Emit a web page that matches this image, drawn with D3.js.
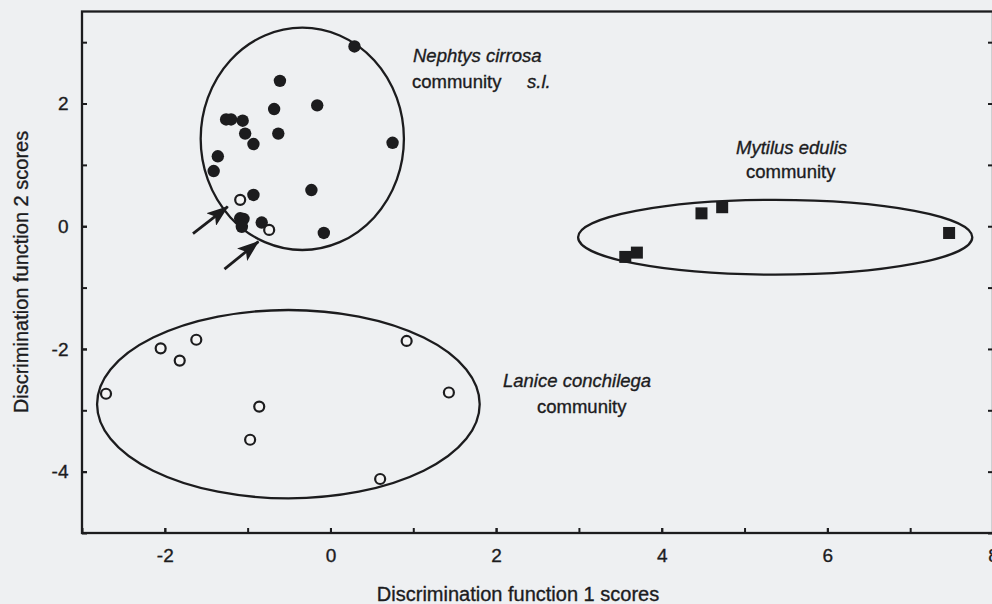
<!DOCTYPE html>
<html>
<head>
<meta charset="utf-8">
<script src="https://cdn.jsdelivr.net/npm/d3@7"></script>
<style>
	body { margin: 0; background: #eef0f2; }
	svg text { font-family: "Liberation Sans", Arial, sans-serif; fill: #1c1c1e; stroke: #1c1c1e; stroke-width: 0.35px; }
</style>
</head>
<body>
<svg class="svgDiscriminantGraph"></svg>
<script>
// Scores: [function 1, function 2]
var nephtysPoints = [
	[0.29, 2.93], [-0.61, 2.37], [-0.16, 1.97], [-0.68, 1.91], [-1.26, 1.74],
	[-1.20, 1.74], [-1.06, 1.72], [-1.03, 1.51], [-0.63, 1.51], [0.75, 1.36],
	[-0.93, 1.34], [-1.36, 1.14], [-1.41, 0.90], [-0.23, 0.59], [-0.93, 0.51],
	[-1.09, 0.13], [-1.05, 0.12], [-1.07, -0.01], [-0.83, 0.06], [-0.08, -0.11]
];
var arrowedPoints = [[-1.09, 0.43], [-0.74, -0.06]];
var lanicePoints = [
	[-2.71, -2.73], [-2.05, -1.99], [-1.82, -2.19], [-1.62, -1.85], [-0.86, -2.94],
	[-0.97, -3.48], [0.92, -1.87], [1.43, -2.71], [0.60, -4.12]
];
var mytilusPoints = [[3.56, -0.50], [3.70, -0.43], [4.48, 0.21], [4.73, 0.31], [7.47, -0.11]];

// Community envelopes: centre x, centre y, radius x, radius y (score units)
var communityNames = ["Nephtys cirrosa", "Mytilus edulis", "Lanice conchilega"];
var envelopes = [[-0.34, 1.425, 1.227, 1.812], [5.37, -0.18, 2.38, 0.61], [-0.508, -2.90, 2.31, 1.535]];

// Arrows pointing at the two open points: x1, y1, x2, y2
var arrows = [[-1.66, -0.12, -1.24, 0.32], [-1.28, -0.70, -0.87, -0.25]];

var xTicks = [-2, 0, 2, 4, 6, 8];
var yTicks = [-4, -2, 0, 2];
var xMinorTicks = d3.range(-3, 9, 1);
var yMinorTicks = d3.range(-5, 4, 1);

function startScript() {
	"use strict";
	var widthGraph = 992;
	var heightGraph = 604;
	var ink = "#1c1c1e";

	var svgGraph = d3.select(".svgDiscriminantGraph");
	svgGraph.attr("width", widthGraph);
	svgGraph.attr("height", heightGraph);

	// frame goes a bit past the right edge, like the scan
	var left = 82, right = 993, top = 11.5, bottom = 533;
	var x = d3.scaleLinear().domain([-3, 8]).range([left, right]);
	var y = d3.scaleLinear().domain([-5, 3.5]).range([bottom, top]);

	// ------- Axes (ticks pointing inside) ------- //
	var gx = svgGraph.append("g").attr("transform", "translate(0," + bottom + ")");
	gx.call(d3.axisBottom(x).tickValues(xMinorTicks).tickSize(-5).tickFormat(""));
	var gxLab = svgGraph.append("g").attr("transform", "translate(0," + bottom + ")");
	gxLab.call(d3.axisBottom(x).tickValues(xTicks).tickSize(-5).tickPadding(16).tickFormat(d3.format("d")));

	var gy = svgGraph.append("g").attr("transform", "translate(" + left + ",0)");
	gy.call(d3.axisLeft(y).tickValues(yMinorTicks).tickSize(-5).tickFormat(""));
	var gyLab = svgGraph.append("g").attr("transform", "translate(" + left + ",0)");
	gyLab.call(d3.axisLeft(y).tickValues(yTicks).tickSize(-5).tickPadding(13.5).tickFormat(d3.format("d")));

	var gr = svgGraph.append("g").attr("transform", "translate(" + right + ",0)");
	gr.call(d3.axisRight(y).tickValues(yMinorTicks).tickSize(-5).tickFormat(""));

	svgGraph.selectAll(".domain").remove();
	svgGraph.selectAll(".tick line").attr("stroke", ink).attr("stroke-width", 2);
	svgGraph.selectAll(".tick text")
		.attr("font-size", 19)
		.attr("font-family", "Liberation Sans, Arial, sans-serif")
		.attr("fill", ink);
	// d3 uses minus sign, the figure has a hyphen
	gxLab.selectAll(".tick text").text(function(d) { return String(d); });
	gyLab.selectAll(".tick text").text(function(d) { return String(d); });

	svgGraph.append("rect")
		.attr("x", left).attr("y", top)
		.attr("width", right - left).attr("height", bottom - top)
		.attr("fill", "none")
		.attr("stroke", ink)
		.attr("stroke-width", 2.3);

	// ------- Envelopes ------- //
	svgGraph.selectAll("ellipse.envelope")
		.data(envelopes)
		.enter().append("ellipse")
		.attr("class", "envelope")
		.attr("cx", function(d) { return x(d[0]); })
		.attr("cy", function(d) { return y(d[1]); })
		.attr("rx", function(d) { return x(d[0] + d[2]) - x(d[0]); })
		.attr("ry", function(d) { return y(d[1] - d[3]) - y(d[1]); })
		.attr("fill", "none")
		.attr("stroke", ink)
		.attr("stroke-width", 2.3);

	// ------- Points ------- //
	svgGraph.selectAll("circle.nephtys")
		.data(nephtysPoints)
		.enter().append("circle")
		.attr("class", "nephtys")
		.attr("cx", function(d) { return x(d[0]); })
		.attr("cy", function(d) { return y(d[1]); })
		.attr("r", 6.2)
		.attr("fill", ink);

	svgGraph.selectAll("circle.open")
		.data(arrowedPoints.concat(lanicePoints))
		.enter().append("circle")
		.attr("class", "open")
		.attr("cx", function(d) { return x(d[0]); })
		.attr("cy", function(d) { return y(d[1]); })
		.attr("r", 5)
		.attr("fill", "#f4f4f4")
		.attr("stroke", ink)
		.attr("stroke-width", 2.2);

	svgGraph.selectAll("rect.mytilus")
		.data(mytilusPoints)
		.enter().append("rect")
		.attr("class", "mytilus")
		.attr("x", function(d) { return x(d[0]) - 6; })
		.attr("y", function(d) { return y(d[1]) - 6; })
		.attr("width", 12)
		.attr("height", 12)
		.attr("fill", ink);

	// ------- Arrows ------- //
	svgGraph.append("defs").append("marker")
		.attr("id", "arrowHead")
		.attr("markerUnits", "userSpaceOnUse")
		.attr("markerWidth", 22).attr("markerHeight", 16)
		.attr("refX", 21).attr("refY", 8)
		.attr("orient", "auto")
		.append("path")
		.attr("d", "M0,0 L22,8 L0,16 L5,8 Z")
		.attr("fill", ink);

	svgGraph.selectAll("line.arrow")
		.data(arrows)
		.enter().append("line")
		.attr("class", "arrow")
		.attr("x1", function(d) { return x(d[0]); })
		.attr("y1", function(d) { return y(d[1]); })
		.attr("x2", function(d) { return x(d[2]); })
		.attr("y2", function(d) { return y(d[3]); })
		.attr("stroke", ink)
		.attr("stroke-width", 2.8)
		.attr("marker-end", "url(#arrowHead)");

	// ------- Community labels ------- //
	var labels = svgGraph.append("g").attr("font-size", 18.5);
	labels.append("text").attr("x", 413).attr("y", 61.5).attr("font-style", "italic").text(communityNames[0]);
	labels.append("text").attr("x", 412).attr("y", 88).text("community");
	labels.append("text").attr("x", 527).attr("y", 88).attr("font-style", "italic").text("s.l.");
	labels.append("text").attr("x", 736).attr("y", 153.5).attr("font-style", "italic").text(communityNames[1]);
	labels.append("text").attr("x", 746).attr("y", 178).text("community");
	labels.append("text").attr("x", 503).attr("y", 386.5).attr("font-style", "italic").text(communityNames[2]);
	labels.append("text").attr("x", 537).attr("y", 413).text("community");

	// ------- Axis titles ------- //
	svgGraph.append("text")
		.attr("x", 518).attr("y", 601)
		.attr("text-anchor", "middle")
		.attr("font-size", 20)
		.text("Discrimination function 1 scores");
	svgGraph.append("text")
		.attr("transform", "translate(28,272) rotate(-90)")
		.attr("text-anchor", "middle")
		.attr("font-size", 20)
		.text("Discrimination function 2 scores");
}
startScript();
</script>
</body>
</html>
